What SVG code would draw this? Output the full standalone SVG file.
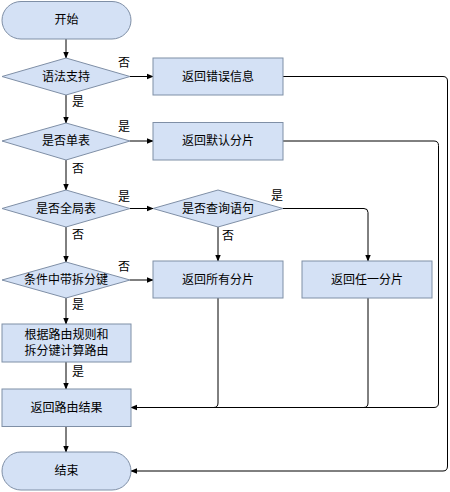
<svg xmlns="http://www.w3.org/2000/svg" width="450" height="492" viewBox="0 0 450 492">
<defs>
<marker id="ah" viewBox="0 0 10 10" refX="9" refY="5" markerWidth="7" markerHeight="7" orient="auto" markerUnits="userSpaceOnUse">
<path d="M0,1 L10,5 L0,9 Z" fill="#000"/>
</marker>
</defs>
<style>
.n{fill:#d4e1f5;stroke:#7f8fa6;stroke-width:1}
.t{font-family:"Liberation Sans","Noto Sans CJK SC",sans-serif;font-size:12px;fill:#000;text-anchor:middle;dominant-baseline:central}
.l{font-family:"Liberation Sans","Noto Sans CJK SC",sans-serif;font-size:12px;fill:#000;text-anchor:middle;dominant-baseline:central}
.c{fill:none;stroke:#000;stroke-width:1}
.ca{fill:none;stroke:#000;stroke-width:1;marker-end:url(#ah)}
</style>
<rect width="450" height="492" fill="#fff"/>
<g id="connectors">
<path class="ca" d="M66,39 V58"/>
<path class="ca" d="M130,76.5 H153"/>
<path class="ca" d="M66,95 V123"/>
<path class="ca" d="M130,141 H153"/>
<path class="ca" d="M66,160 V190"/>
<path class="ca" d="M130,208.5 H153"/>
<path class="ca" d="M66,227 V262"/>
<path class="ca" d="M218,227 V261"/>
<path class="ca" d="M283,208.5 H364 Q368,208.5 368,212.5 V261"/>
<path class="ca" d="M130,280 H153"/>
<path class="ca" d="M66,298 V324"/>
<path class="ca" d="M66,362 V389"/>
<path class="ca" d="M66,427 V452"/>
<path class="ca" d="M283,76.5 H443 Q447.5,76.5 447.5,81 V466 Q447.5,471 443,471 H131"/>
<path class="ca" d="M283,141 H434 Q438.5,141 438.5,145.5 V403 Q438.5,407.5 434,407.5 H131"/>
<path class="c" d="M218,298 V403 Q218,407.5 213.5,407.5"/>
<path class="c" d="M368,298 V403 Q368,407.5 363.5,407.5"/>
</g>
<g id="start"><rect class="n" x="2" y="1.5" width="129" height="37.5" rx="19"/><text class="t" x="66.5" y="20">开始</text></g>
<g id="d1"><polygon class="n" points="2,76.5 66,58 130,76.5 66,95"/><text class="t" x="66" y="76.5">语法支持</text></g>
<g id="err"><rect class="n" x="153" y="58" width="130" height="37"/><text class="t" x="218" y="76.5">返回错误信息</text></g>
<g id="d2"><polygon class="n" points="2,141 66,123 130,141 66,160"/><text class="t" x="66" y="141">是否单表</text></g>
<g id="def"><rect class="n" x="153" y="122.5" width="130" height="37.5"/><text class="t" x="218" y="141">返回默认分片</text></g>
<g id="d3"><polygon class="n" points="2,208.5 66,190 130,208.5 66,227"/><text class="t" x="66" y="208.5">是否全局表</text></g>
<g id="d4"><polygon class="n" points="153,208.5 218,190 283,208.5 218,227"/><text class="t" x="218" y="208.5">是否查询语句</text></g>
<g id="d5"><polygon class="n" points="2,280 66,262 130,280 66,298"/><text class="t" x="66" y="280">条件中带拆分键</text></g>
<g id="all"><rect class="n" x="153" y="261" width="130" height="37"/><text class="t" x="218" y="280">返回所有分片</text></g>
<g id="any"><rect class="n" x="302" y="261" width="130" height="37"/><text class="t" x="367" y="280">返回任一分片</text></g>
<g id="calc"><rect class="n" x="2" y="324" width="129" height="38"/><text class="t" x="66.5" y="335">根据路由规则和</text><text class="t" x="66.5" y="351">拆分键计算路由</text></g>
<g id="ret"><rect class="n" x="2" y="389" width="129" height="37.5"/><text class="t" x="66.5" y="407.5">返回路由结果</text></g>
<g id="end"><rect class="n" x="2" y="452" width="129" height="38" rx="19"/><text class="t" x="66.5" y="471">结束</text></g>
<g id="labels">
<text class="l" x="124" y="63">否</text>
<text class="l" x="78" y="102">是</text>
<text class="l" x="124" y="127">是</text>
<text class="l" x="78" y="169">否</text>
<text class="l" x="124" y="197">是</text>
<text class="l" x="78" y="235">否</text>
<text class="l" x="277" y="196">是</text>
<text class="l" x="228" y="236">否</text>
<text class="l" x="124" y="267">否</text>
<text class="l" x="78" y="305">是</text>
<text class="l" x="78" y="372">是</text>
</g>
</svg>
